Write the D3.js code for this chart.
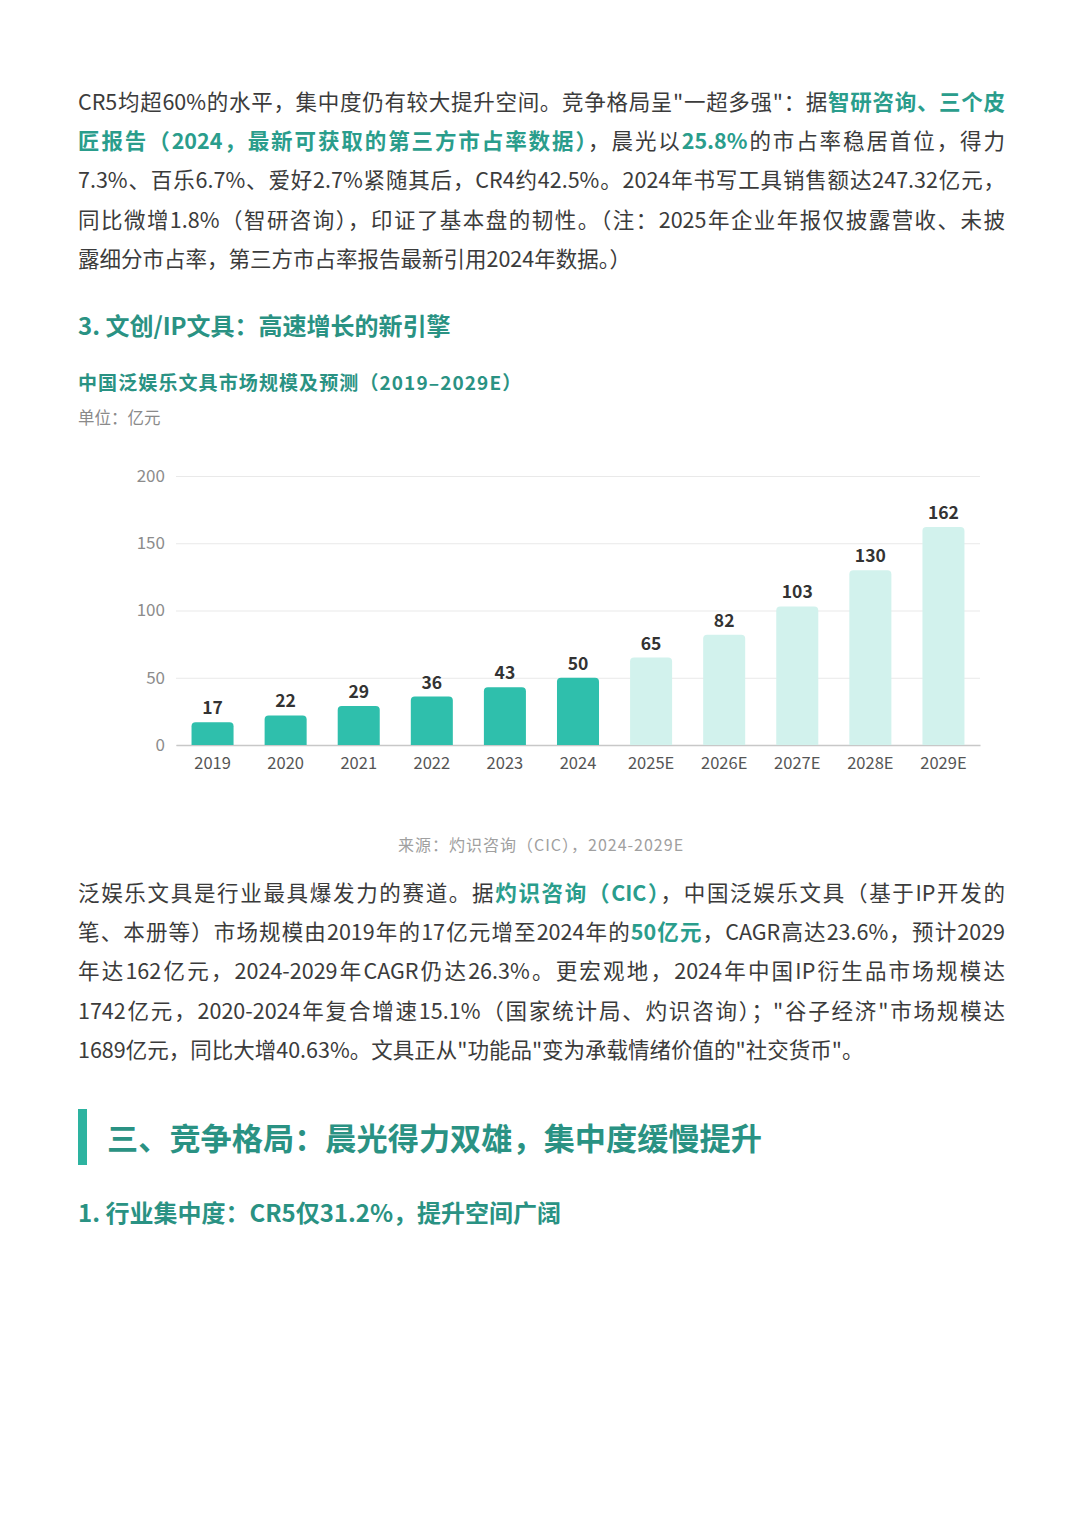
<!DOCTYPE html>
<html>
<head>
<meta charset="utf-8">
<script src="https://cdn.jsdelivr.net/npm/d3@7"></script>
<style>
  html, body { margin: 0; padding: 0; background: #fff; }
  body { width: 1080px; height: 1528px; position: relative; overflow: hidden;
         font-family: "Noto Sans CJK SC", "Noto Sans", sans-serif; color: #3b3b3b; }
  .para { position: absolute; left: 78px; width: 927px; font-size: 21.5px; line-height: 39.2px; }
  .para .ln { text-align: justify; text-align-last: justify; white-space: nowrap; height: 39.2px; }
  .para .ln.last { text-align-last: left; }
  .hl { color: #2a9d8c; font-weight: bold; }
  .h3 { position: absolute; left: 78px; font-size: 24px; font-weight: bold; color: #2a9283; }
  .ctitle { position: absolute; left: 78px; top: 368px; font-size: 19px; letter-spacing: 1.1px; font-weight: bold; color: #2a9283; }
  .unit { position: absolute; left: 78px; top: 405px; font-size: 16.5px; color: #8a8a8a; }
  .h2 { position: absolute; left: 78px; top: 1109px; height: 56px; border-left: 9px solid #2db3a0;
        padding-left: 20px; font-size: 31.2px; font-weight: bold; color: #2a9283; line-height: 56px; }
  svg { position: absolute; left: 0; top: 440px; }
</style>
</head>
<body>

<div class="para" style="top:81px">
  <div class="ln">CR5均超60%的水平，集中度仍有较大提升空间。竞争格局呈"一超多强"：据<span class="hl">智研咨询、三个皮</span></div>
  <div class="ln"><span class="hl">匠报告（2024，最新可获取的第三方市占率数据）</span>，晨光以<span class="hl">25.8%</span>的市占率稳居首位，得力</div>
  <div class="ln">7.3%、百乐6.7%、爱好2.7%紧随其后，CR4约42.5%。2024年书写工具销售额达247.32亿元，</div>
  <div class="ln">同比微增1.8%（智研咨询），印证了基本盘的韧性。（注：2025年企业年报仅披露营收、未披</div>
  <div class="ln last">露细分市占率，第三方市占率报告最新引用2024年数据。）</div>
</div>

<div class="h3" style="top:307px">3. 文创/IP文具：高速增长的新引擎</div>
<div class="ctitle">中国泛娱乐文具市场规模及预测（2019–2029E）</div>
<div class="unit">单位：亿元</div>

<svg id="chart" width="1080" height="420"></svg>

<div class="para" style="top:872px">
  <div class="ln">泛娱乐文具是行业最具爆发力的赛道。据<span class="hl">灼识咨询（CIC）</span>，中国泛娱乐文具（基于IP开发的</div>
  <div class="ln">笔、本册等）市场规模由2019年的17亿元增至2024年的<span class="hl">50亿元</span>，CAGR高达23.6%，预计2029</div>
  <div class="ln">年达162亿元，2024-2029年CAGR仍达26.3%。更宏观地，2024年中国IP衍生品市场规模达</div>
  <div class="ln">1742亿元，2020-2024年复合增速15.1%（国家统计局、灼识咨询）；"谷子经济"市场规模达</div>
  <div class="ln last">1689亿元，同比大增40.63%。文具正从"功能品"变为承载情绪价值的"社交货币"。</div>
</div>

<div class="h2">三、竞争格局：晨光得力双雄，集中度缓慢提升</div>
<div class="h3" style="top:1194px">1. 行业集中度：CR5仅31.2%，提升空间广阔</div>

<script>
var years = ["2019", "2020", "2021", "2022", "2023", "2024", "2025E", "2026E", "2027E", "2028E", "2029E"];
var values = [17, 22, 29, 36, 43, 50, 65, 82, 103, 130, 162];
var forecast = [false, false, false, false, false, false, true, true, true, true, true];
var yTicks = [0, 50, 100, 150, 200];
var source = "来源：灼识咨询（CIC），2024-2029E";

var margin = {top: 36, right: 100, bottom: 115, left: 176},
    width = 1080 - margin.left - margin.right,
    height = 420 - margin.top - margin.bottom;

var svg = d3.select("#chart")
  .append("g")
    .attr("transform", "translate(" + margin.left + "," + margin.top + ")");

var x = d3.scaleBand()
    .domain(years)
    .range([0, width])
    .paddingInner(0.425)
    .paddingOuter(0.2125);

var y = d3.scaleLinear()
    .domain([0, 200])
    .range([height, 0]);

var yAxis = d3.axisLeft(y)
    .tickValues(yTicks)
    .tickSize(-width)
    .tickPadding(11);

var gy = svg.append("g").call(yAxis);
gy.select(".domain").remove();
gy.selectAll(".tick line").attr("stroke", "#e9e9e9").attr("stroke-width", 1);
gy.selectAll(".tick text")
    .attr("fill", "#8c8c8c")
    .style("font-size", "17px")
    .style("font-family", "'Noto Sans CJK SC', sans-serif");

var gx = svg.append("g")
    .attr("transform", "translate(0," + height + ")")
    .call(d3.axisBottom(x).tickSize(0).tickPadding(12));
gx.select(".domain").attr("stroke", "#c8c8c8").attr("stroke-width", 1.5);
gx.selectAll(".tick text")
    .attr("fill", "#555")
    .style("font-size", "16.5px")
    .style("font-family", "'Noto Sans CJK SC', sans-serif");

var r = 4;
function barPath(d, i) {
  var x0 = x(years[i]), w = x.bandwidth(), y0 = y(d), y1 = y(0);
  return "M" + x0 + "," + y1 +
    "V" + (y0 + r) +
    "Q" + x0 + "," + y0 + " " + (x0 + r) + "," + y0 +
    "H" + (x0 + w - r) +
    "Q" + (x0 + w) + "," + y0 + " " + (x0 + w) + "," + (y0 + r) +
    "V" + y1 + "Z";
}

svg.append("g").selectAll(".bar")
    .data(values)
  .enter().append("path")
    .attr("class", "bar")
    .attr("d", barPath)
    .style("fill", function(d, i) { return forecast[i] ? "#d2f2ed" : "#2fbfac"; });

svg.append("g").selectAll(".val")
    .data(values)
  .enter().append("text")
    .attr("x", function(d, i) { return x(years[i]) + x.bandwidth() / 2; })
    .attr("y", function(d) { return y(d) - 8; })
    .attr("text-anchor", "middle")
    .attr("fill", "#333")
    .style("font-size", "17.5px")
    .style("font-weight", "bold")
    .style("font-family", "'Noto Sans CJK SC', sans-serif")
    .text(function(d) { return d; });

d3.select("#chart").append("text")
    .attr("x", 541)
    .attr("y", 411)
    .attr("text-anchor", "middle")
    .attr("fill", "#a0a0a0")
    .style("font-size", "16px")
    .style("letter-spacing", "1px")
    .style("font-family", "'Noto Sans CJK SC', sans-serif")
    .text(source);
</script>
</body>
</html>
